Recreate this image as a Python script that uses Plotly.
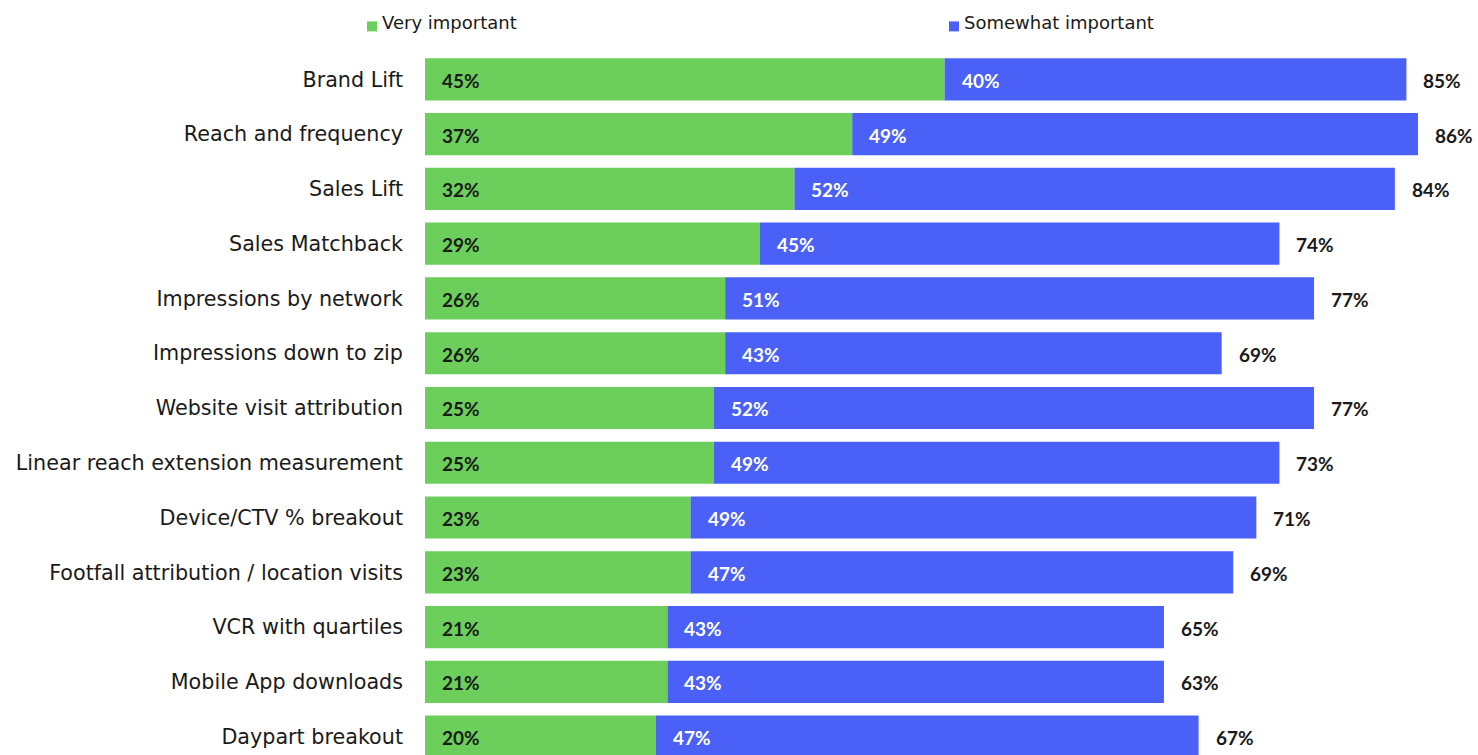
import plotly.graph_objects as go

# Survey metrics, top to bottom
categories = [
    "Brand Lift",
    "Reach and frequency",
    "Sales Lift",
    "Sales Matchback",
    "Impressions by network",
    "Impressions down to zip",
    "Website visit attribution",
    "Linear reach extension measurement",
    "Device/CTV % breakout",
    "Footfall attribution / location visits",
    "VCR with quartiles",
    "Mobile App downloads",
    "Daypart breakout",
]
very_important = [45, 37, 32, 29, 26, 26, 25, 25, 23, 23, 21, 21, 20]
somewhat_important = [40, 49, 52, 45, 51, 43, 52, 49, 49, 47, 43, 43, 47]
total_important = [85, 86, 84, 74, 77, 69, 77, 73, 71, 69, 65, 63, 67]

GREEN = "#6ccf5b"
BLUE = "#4a60f7"
FONT = "DejaVu Sans"
LABEL_FONT = "Lato"

ypos = list(range(len(categories)))

fig = go.Figure()
fig.add_trace(go.Bar(
    y=ypos, x=very_important, orientation="h", name="Very important",
    marker=dict(color=GREEN, line=dict(width=0)), width=0.77,
    showlegend=False, hoverinfo="skip",
))
fig.add_trace(go.Bar(
    y=ypos, x=somewhat_important, orientation="h", name="Somewhat important",
    base=very_important,
    marker=dict(color=BLUE, line=dict(width=0)), width=0.77,
    showlegend=False, hoverinfo="skip",
))

annotations = []
for i, (v, s, t) in enumerate(zip(very_important, somewhat_important, total_important)):
    annotations.append(dict(
        x=0, y=i, xref="x", yref="y", text=f"<b>{v}%</b>", showarrow=False,
        xanchor="left", yanchor="middle", xshift=15, yshift=-1,
        font=dict(family=LABEL_FONT, size=19, color="#1a1a1a"),
    ))
    annotations.append(dict(
        x=v, y=i, xref="x", yref="y", text=f"<b>{s}%</b>", showarrow=False,
        xanchor="left", yanchor="middle", xshift=15, yshift=-1,
        font=dict(family=LABEL_FONT, size=19, color="white"),
    ))
    annotations.append(dict(
        x=v + s, y=i, xref="x", yref="y", text=f"<b>{t}%</b>", showarrow=False,
        xanchor="left", yanchor="middle", xshift=15, yshift=-1,
        font=dict(family=LABEL_FONT, size=19, color="#1a1a1a"),
    ))

# Legend built from a swatch and a label per series
shapes = []
legend_items = [("Very important", GREEN, 367), ("Somewhat important", BLUE, 949)]
for label, color, px in legend_items:
    shapes.append(dict(
        type="rect", xref="paper", yref="paper",
        x0=(px - 425) / 1053, x1=(px + 10 - 425) / 1053,
        y0=(755 - 31) / 703.4, y1=(755 - 21) / 703.4,
        fillcolor=color, line=dict(width=0),
    ))
    annotations.append(dict(
        x=(px + 13 - 425) / 1053, y=(755 - 22) / 703.4, xref="paper", yref="paper",
        text=label, showarrow=False, xanchor="left", yanchor="middle",
        font=dict(family=FONT, size=18, color="#1a1a1a"),
    ))

fig.update_layout(
    width=1478, height=755,
    margin=dict(l=425, r=0, t=51.6, b=0, pad=0),
    paper_bgcolor="white", plot_bgcolor="white",
    barmode="overlay",
    annotations=annotations,
    shapes=shapes,
    xaxis=dict(range=[0, 91.2], visible=False, fixedrange=True),
    yaxis=dict(
        range=[12.336, -0.5], tickmode="array", tickvals=ypos, ticktext=categories,
        showgrid=False, zeroline=False, showline=False, ticks="",
        ticklabelstandoff=21,
        tickfont=dict(family=FONT, size=20.7, color="#1a1a1a"),
        fixedrange=True,
    ),
)

fig.write_html("out.html")
